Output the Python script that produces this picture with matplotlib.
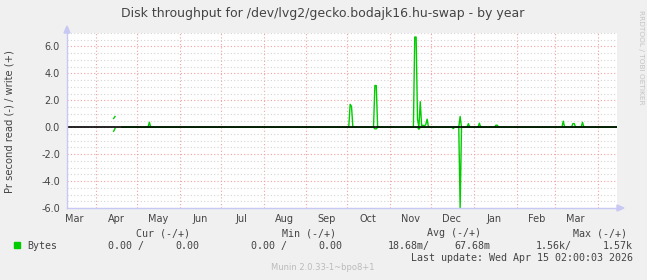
import matplotlib
matplotlib.use("Agg")
import matplotlib.pyplot as plt
import matplotlib.dates as mdates
from matplotlib.ticker import MultipleLocator, FormatStrFormatter
from matplotlib.patches import Polygon, Rectangle
from matplotlib.lines import Line2D
import numpy as np
import pandas as pd

# Figure size in pixels (dpi 100)
WIDTH, HEIGHT = 647, 280

TITLE = "Disk throughput for /dev/lvg2/gecko.bodajk16.hu-swap - by year"
Y_LABEL = "Pr second read (-) / write (+)"
SIDE_LABEL = "RRDTOOL / TOBI OETIKER"
FOOTER = "Munin 2.0.33-1~bpo8+1"
LAST_UPDATE = "Last update: Wed Apr 15 02:00:03 2026"

RANGE_START = "2025-03-11 02:00"
RANGE_END = "2026-04-15 02:00"
# continuous collection starts here, before only a few loose samples
DATA_START = "2025-04-20"

EARLY_DAYS = ["2025-04-14", "2025-04-15"]
EARLY_WRITE = [0.65, 0.8]
EARLY_READ = [0.3, 0.1]

SPIKE_DAYS = [
    "2025-05-10", "2025-10-03", "2025-10-04", "2025-10-21", "2025-10-22",
    "2025-11-02", "2025-11-19", "2025-11-20", "2025-11-21", "2025-11-22",
    "2025-11-23", "2025-11-24", "2025-11-25", "2025-11-26", "2025-11-27",
    "2025-11-28", "2025-12-17", "2025-12-22", "2025-12-28", "2026-01-05",
    "2026-01-17", "2026-01-18", "2026-03-07", "2026-03-14", "2026-03-15",
    "2026-03-21",
]
SPIKE_WRITE = [
    0.37, 1.7, 1.55, 3.1, 3.1,
    0.05, 6.7, 6.7, 0.6, 0.0,
    1.9, 0.1, 0.15, 0.1, 0.2,
    0.6, 0.0, 0.8, 0.27, 0.3,
    0.15, 0.15, 0.45, 0.27, 0.27,
    0.37,
]
SPIKE_READ = [
    0.0, 0.0, 0.0, 0.12, 0.12,
    0.0, 0.0, 0.0, 0.0, 0.15,
    0.0, 0.0, 0.0, 0.0, 0.0,
    0.0, 0.1, 6.0, 0.0, 0.0,
    0.0, 0.0, 0.0, 0.0, 0.0,
    0.0,
]

LEGEND_NAME = "Bytes"
LEGEND_HEADERS = ["Cur (-/+)", "Min (-/+)", "Avg (-/+)", "Max (-/+)"]
LEGEND_READ = ["0.00", "0.00", "18.68m", "1.56k"]
LEGEND_WRITE = ["0.00", "0.00", "67.68m", "1.57k"]

LINE_COLOR = "#00CC00"
TEXT_COLOR = "#444444"
AXIS_COLOR = "#C8C8F4"


def fx(x):
    return x / WIDTH


def fy(y):
    return 1 - y / HEIGHT


def build_series():
    days = pd.date_range(pd.Timestamp(RANGE_START).normalize(), RANGE_END, freq="D")
    write = pd.Series(np.nan, index=days)
    read = pd.Series(np.nan, index=days)

    write[write.index >= DATA_START] = 0.0
    read[read.index >= DATA_START] = 0.0

    for d, w, r in zip(EARLY_DAYS + SPIKE_DAYS,
                       EARLY_WRITE + SPIKE_WRITE,
                       EARLY_READ + SPIKE_READ):
        write[pd.Timestamp(d)] = w
        read[pd.Timestamp(d)] = r
    return write, read


def draw_legend(fig):
    mono = dict(family="DejaVu Sans Mono", fontsize=7.2, color=TEXT_COLOR, va="center")

    # header row
    header_right = [190, 336, 481, 627]
    for txt, x in zip(LEGEND_HEADERS, header_right):
        fig.text(fx(x), fy(233), txt, ha="right", **mono)

    # data row
    fig.patches.append(Rectangle((fx(14), fy(248)), fx(6), 6 / HEIGHT,
                                 transform=fig.transFigure, color=LINE_COLOR))
    fig.text(fx(27), fy(246), LEGEND_NAME, ha="left", **mono)

    read_left = [108, 251, 388, 536]
    write_right = [199, 342, 490, 633]
    for rv, wv, xl, xr in zip(LEGEND_READ, LEGEND_WRITE, read_left, write_right):
        sep = "/" if rv.endswith(("m", "k")) else " /"
        fig.text(fx(xl), fy(246), rv + sep, ha="left", **mono)
        fig.text(fx(xr), fy(246), wv, ha="right", **mono)

    fig.text(fx(633), fy(258), LAST_UPDATE, ha="right", **mono)
    fig.text(fx(323), fy(268), FOOTER, ha="center", va="center",
             fontsize=6, color="#BBBBBB")


def main():
    write, read = build_series()

    fig = plt.figure(figsize=(WIDTH / 100, HEIGHT / 100), dpi=100)
    fig.patch.set_facecolor("#F0F0F0")

    left, right, top, bottom = 67, 617, 33, 208
    ax = fig.add_axes([fx(left), fy(bottom), fx(right - left), (bottom - top) / HEIGHT])
    ax.set_facecolor("white")

    # write positive, read negative; zero rule drawn on top
    ax.plot(write.index, write.values, color=LINE_COLOR, lw=1.0, zorder=2)
    ax.plot(read.index, -read.values, color=LINE_COLOR, lw=1.0, zorder=2)
    ax.axhline(0, color="black", lw=1.2, zorder=3)

    ax.set_xlim(pd.Timestamp(RANGE_START), pd.Timestamp(RANGE_END))
    ax.set_ylim(-6, 7)

    # y grid: red every 2, grey every 0.5
    ax.yaxis.set_major_locator(MultipleLocator(2))
    ax.yaxis.set_minor_locator(MultipleLocator(0.5))
    ax.yaxis.set_major_formatter(FormatStrFormatter("%.1f"))
    ax.grid(which="minor", axis="y", color="#D4D4D4", linestyle=(0, (1, 2)), lw=0.8)
    ax.grid(which="major", axis="y", color="#F4A0A0", linestyle=(0, (1, 2)), lw=0.8)

    # x grid: red at month start, label in the middle of the month
    ax.xaxis.set_major_locator(mdates.MonthLocator())
    ax.xaxis.set_major_formatter(plt.NullFormatter())
    ax.xaxis.set_minor_locator(mdates.MonthLocator(bymonthday=16))
    ax.xaxis.set_minor_formatter(mdates.DateFormatter("%b"))
    ax.grid(which="major", axis="x", color="#F4A0A0", linestyle=(0, (1, 2)), lw=0.8)

    ax.tick_params(which="both", length=0, labelsize=7, labelcolor=TEXT_COLOR)
    ax.tick_params(axis="y", pad=5)
    ax.tick_params(axis="x", which="minor", pad=4)

    for side in ["top", "right"]:
        ax.spines[side].set_visible(False)
    for side in ["left", "bottom"]:
        ax.spines[side].set_color(AXIS_COLOR)
        ax.spines[side].set_linewidth(1)
        ax.spines[side].set_zorder(4)

    # axis arrows
    fig.lines.append(Line2D([fx(67), fx(67)], [fy(33), fy(29)], color=AXIS_COLOR,
                            lw=1, transform=fig.transFigure))
    fig.lines.append(Line2D([fx(617), fx(620)], [fy(208), fy(208)], color=AXIS_COLOR,
                            lw=1, transform=fig.transFigure))
    fig.patches.append(Polygon([(fx(64), fy(33)), (fx(70), fy(33)), (fx(67), fy(26))],
                               transform=fig.transFigure, color=AXIS_COLOR))
    fig.patches.append(Polygon([(fx(617), fy(205)), (fx(617), fy(211)), (fx(624), fy(208))],
                               transform=fig.transFigure, color=AXIS_COLOR))

    fig.text(fx(323), fy(13), TITLE, ha="center", va="center",
             fontsize=9.0, color=TEXT_COLOR)
    fig.text(fx(10), fy(122), Y_LABEL, ha="center", va="center", rotation=90,
             fontsize=7.2, color=TEXT_COLOR)
    fig.text(fx(641), fy(57), SIDE_LABEL, ha="center", va="center", rotation=270,
             fontsize=5.3, color="#C4C4C4")

    draw_legend(fig)

    fig.savefig("out.png", dpi=100, facecolor=fig.get_facecolor())


if __name__ == "__main__":
    main()
